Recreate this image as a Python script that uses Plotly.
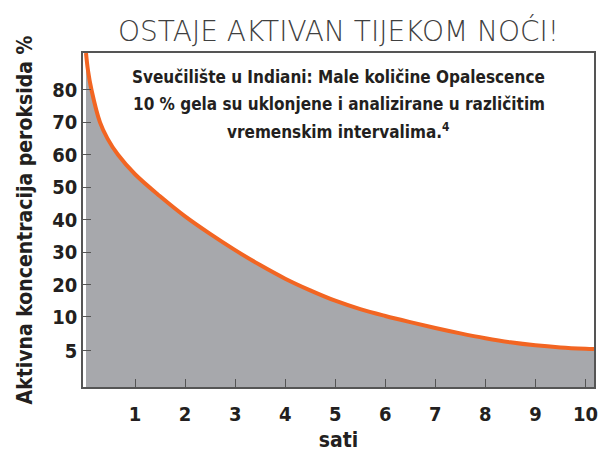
import plotly.graph_objects as go

# ---- data ----
hours = [0.02, 0.06, 0.13, 0.3, 0.45, 0.66, 1.0, 1.5, 2.0, 2.5, 3.0, 3.5, 4.0, 4.5, 5.0, 5.5, 6.0,
         6.5, 7.0, 7.5, 8.0, 8.5, 9.0, 9.5, 10.0, 10.17]
peroxide = [91.4, 86, 80, 70, 65, 60, 54, 47.2, 41.0, 35.6, 30.6, 26.0, 21.8, 18.2, 15.0, 12.4, 10.3,
            9.24, 8.38, 7.59, 6.88, 6.28, 5.83, 5.52, 5.33, 5.29]

x_ticks = [1, 2, 3, 4, 5, 6, 7, 8, 9, 10]
y_ticks = [5, 10, 20, 30, 40, 50, 60, 70, 80]

title_text = "OSTAJE AKTIVAN TIJEKOM NOĆI!"
note_lines = ["Sveučilište u Indiani: Male količine Opalescence",
              "10 % gela su uklonjene i analizirane u različitim",
              "vremenskim intervalima.<sup>4</sup>"]
x_title = "sati"
y_title = "Aktivna koncentracija peroksida %"


# the printed axis is stretched below 10 %: the 5 tick sits one full step under 10
def axis_pos(v):
    return v if v >= 10 else 10 - (10 - v) * 2.097


Y_MIN, Y_MAX = -11.6, 91.4
X_MIN, X_MAX = -0.04, 10.17

curve_y = [axis_pos(v) for v in peroxide]
tick_pos = [axis_pos(v) for v in y_ticks]

COND = "Liberation Sans Narrow, DejaVu Sans Condensed, Noto Sans"
INK = "#231f20"

# page body has an 8px margin; size the figure so the plot box lands where the reference has it
W, H = 603, 449
ML, MR, MT, MB = 75, 17, 45, 70
PLOT_H = H - MT - MB

fig = go.Figure()
fig.add_trace(go.Scatter(x=hours, y=[Y_MIN] * len(hours), mode="lines",
                         line=dict(width=0, color="rgba(0,0,0,0)"),
                         hoverinfo="skip", showlegend=False))
fig.add_trace(go.Scatter(x=hours, y=curve_y, mode="lines", fill="tonexty",
                         fillcolor="#a7a8ac",
                         line=dict(color="#f26522", width=4, shape="spline", smoothing=1.0),
                         showlegend=False))

annotations = [dict(text=title_text, xref="paper", yref="paper",
                    x=0.5, y=1.0 + 22 / PLOT_H, xanchor="center", yanchor="middle",
                    showarrow=False,
                    font=dict(family="DejaVu Sans ExtraLight, DejaVu Sans", size=28,
                              color="#404040", weight=300))]
for i, line in enumerate(note_lines):
    annotations.append(dict(text=line, xref="paper", yref="paper",
                            x=0.5, y=1.0 - (24 + 27 * i) / PLOT_H,
                            xanchor="center", yanchor="middle",
                            showarrow=False, align="center",
                            font=dict(family=COND, size=17, color=INK, weight="bold")))

fig.update_layout(
    width=W, height=H,
    margin=dict(l=ML, r=MR, t=MT, b=MB),
    paper_bgcolor="white", plot_bgcolor="white",
    annotations=annotations,
)

fig.update_xaxes(range=[X_MIN, X_MAX], tickvals=x_ticks, ticktext=[str(t) for t in x_ticks],
                 ticks="inside", ticklen=8, tickcolor="#555", tickwidth=1.2,
                 showline=True, linecolor="#555", linewidth=1.5, mirror=True,
                 showgrid=False, zeroline=False, automargin=False, ticklabelstandoff=8,
                 tickfont=dict(family=COND, size=20, color=INK, weight="bold"),
                 title=dict(text=x_title, standoff=8,
                            font=dict(family=COND, size=21, color=INK, weight="bold")))
fig.update_yaxes(range=[Y_MIN, Y_MAX], tickvals=tick_pos, ticktext=[str(t) for t in y_ticks],
                 ticks="inside", ticklen=8, tickcolor="#555", tickwidth=1.2,
                 showline=True, linecolor="#555", linewidth=1.5, mirror=True,
                 showgrid=False, zeroline=False, automargin=False,
                 tickfont=dict(family=COND, size=20, color=INK, weight="bold"),
                 title=dict(text=y_title, standoff=14,
                            font=dict(family=COND, size=21, color=INK, weight="bold")))

fig.write_html("out.html")
